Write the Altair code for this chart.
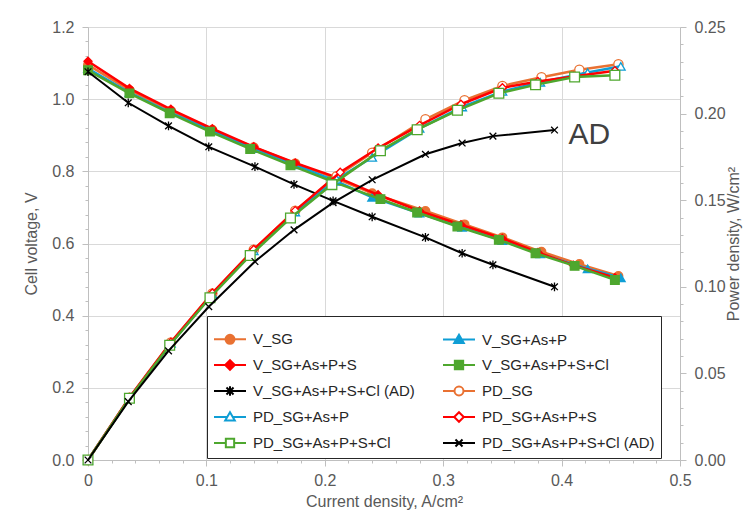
import altair as alt
import pandas as pd

# ---------------- data ----------------
series_v = ["V_SG", "V_SG+As+P", "V_SG+As+P+S", "V_SG+As+P+S+Cl", "V_SG+As+P+S+Cl (AD)"]
series_pd = ["PD_SG", "PD_SG+As+P", "PD_SG+As+P+S", "PD_SG+As+P+S+Cl", "PD_SG+As+P+S+Cl (AD)"]
colors = ["#E97132", "#0F9ED5", "#FF0000", "#4EA72E", "#000000"]

I_SG = [0, 0.035, 0.07, 0.105, 0.14, 0.175, 0.21, 0.24, 0.285, 0.318, 0.35, 0.383, 0.415, 0.448]
V_SG = [1.095, 1.025, 0.968, 0.915, 0.867, 0.822, 0.78, 0.739, 0.69, 0.653, 0.617, 0.577, 0.543, 0.51]
PD_SG = [0, 0.0359, 0.0678, 0.0961, 0.1214, 0.1439, 0.1638, 0.1774, 0.1967, 0.2077, 0.2160, 0.2210, 0.2253, 0.2285]

I_ASP = [0, 0.035, 0.07, 0.105, 0.14, 0.175, 0.21, 0.24, 0.28, 0.316, 0.35, 0.382, 0.422, 0.45]
V_ASP = [1.085, 1.018, 0.962, 0.912, 0.863, 0.818, 0.772, 0.728, 0.684, 0.645, 0.608, 0.571, 0.53, 0.505]
PD_ASP = [0, 0.0356, 0.0673, 0.0958, 0.1208, 0.1432, 0.1621, 0.1747, 0.1915, 0.2038, 0.2128, 0.2181, 0.2237, 0.2273]

I_ASPS = [0, 0.035, 0.07, 0.105, 0.14, 0.175, 0.213, 0.245, 0.28, 0.315, 0.35, 0.38, 0.41, 0.445]
V_ASPS = [1.105, 1.03, 0.972, 0.918, 0.868, 0.823, 0.78, 0.735, 0.69, 0.652, 0.614, 0.575, 0.54, 0.505]
PD_ASPS = [0, 0.0361, 0.068, 0.0964, 0.1215, 0.144, 0.1661, 0.1801, 0.1932, 0.2054, 0.2149, 0.2185, 0.2214, 0.2247]

I_ASPSCl = [0, 0.035, 0.069, 0.103, 0.137, 0.171, 0.206, 0.247, 0.278, 0.312, 0.347, 0.378, 0.411, 0.445]
V_ASPSCl = [1.08, 1.016, 0.961, 0.91, 0.862, 0.817, 0.772, 0.723, 0.686, 0.647, 0.61, 0.573, 0.538, 0.499]
PD_ASPSCl = [0, 0.0356, 0.0663, 0.0937, 0.1181, 0.1397, 0.159, 0.1786, 0.1907, 0.2019, 0.2117, 0.2166, 0.2211, 0.2221]

I_AD = [0, 0.034, 0.068, 0.102, 0.141, 0.174, 0.207, 0.24, 0.285, 0.316, 0.342, 0.394]
V_AD = [1.076, 0.99, 0.926, 0.868, 0.813, 0.764, 0.718, 0.674, 0.617, 0.573, 0.541, 0.48]
PD_AD = [0, 0.0337, 0.063, 0.0885, 0.1146, 0.1329, 0.1486, 0.1618, 0.1765, 0.1830, 0.1870, 0.1905]

currents = [I_SG, I_ASP, I_ASPS, I_ASPSCl, I_AD]
voltages = [V_SG, V_ASP, V_ASPS, V_ASPSCl, V_AD]
powers = [PD_SG, PD_ASP, PD_ASPS, PD_ASPSCl, PD_AD]

x_ticks = [round(i * 0.02, 2) for i in range(26)]
yl_ticks = [round(i * 0.04, 2) for i in range(31)]
yr_ticks = [round(i * 0.01, 2) for i in range(26)]

# ---------------- tables ----------------
rows = []
for k in range(5):
    for i, v, p in zip(currents[k], voltages[k], powers[k]):
        rows.append({"group": k, "I": i, "V": v, "PD": p})
df = pd.DataFrame(rows)

all_names = series_v + series_pd
# legend is filled column by column: order so that rows read like the reference
leg_order = [0, 2, 4, 6, 8, 1, 3, 5, 7, 9]
legend_names = [all_names[j] for j in leg_order]
legend_df = pd.DataFrame({"name": legend_names})
ad_df = pd.DataFrame({"I": [I_AD[-1]], "PD": [PD_AD[-1]], "t": ["AD"]})

# ---------------- styling ----------------
FONT = "Liberation Sans"
AXC = "#BFBFBF"
GRIDC = "#D9D9D9"
LABC = "#595959"


def cond(test, a, b):
    return {"condition": {"test": test, "value": a}, "value": b}


tx = "abs(datum.value*10 - round(datum.value*10)) < 0.001"
tyl = "abs(datum.value*5 - round(datum.value*5)) < 0.001"
tyr = "abs(datum.value*20 - round(datum.value*20)) < 0.001"

common_axis = dict(domainColor=AXC, tickColor=AXC, gridColor=GRIDC, labelFont=FONT,
                   labelFontSize=16, labelColor=LABC, titleFont=FONT, titleFontSize=16,
                   titleColor=LABC, titleFontWeight="normal", labelOverlap=False,
                   labelFlush=False, domainWidth=1, tickWidth=1)

x_axis = alt.Axis(values=x_ticks, title="Current density, A/cm²",
                  labelExpr=f"{tx} ? (datum.value == 0 ? '0' : format(datum.value, '.1f')) : ''",
                  tickSize=cond(tx, 6, 3), grid=True, gridOpacity=cond(tx, 1, 0),
                  labelPadding=6, titlePadding=5, **common_axis)
yl_axis = alt.Axis(values=yl_ticks, title="Cell voltage, V", orient="left",
                   labelExpr=f"{tyl} ? format(datum.value, '.1f') : ''",
                   tickSize=cond(tyl, 6, 3), grid=True, gridOpacity=cond(tyl, 1, 0),
                   labelPadding=8, titlePadding=12, **common_axis)
yr_axis = alt.Axis(values=yr_ticks, title="Power density, W/cm²", orient="right",
                   labelExpr=f"{tyr} ? format(datum.value, '.2f') : ''",
                   tickSize=cond(tyr, 6, 3), grid=False, titleAngle=270,
                   labelPadding=8, titlePadding=16, **common_axis)

X = alt.X("I:Q", scale=alt.Scale(domain=[0, 0.5], nice=False), axis=x_axis)
YL = alt.Y("V:Q", scale=alt.Scale(domain=[0, 1.2], nice=False), axis=yl_axis)
YR = alt.Y("PD:Q", scale=alt.Scale(domain=[0, 0.25], nice=False), axis=yr_axis)

v_shapes = ["circle", "triangle-up", "diamond", "square",
            "M-1,-1L1,1M-1,1L1,-1M0,-1.3V1.3"]
pd_shapes = ["circle", "triangle-up", "diamond", "square", "M-1,-1L1,1M-1,1L1,-1"]
v_sizes = [75, 75, 65, 75, 45]
pd_sizes = [85, 75, 65, 95, 45]

left_layers = []
right_layers = []
for k in range(5):
    base = alt.Chart(df).transform_filter(f"datum.group == {k}")
    lw = 2.0 if k == 4 else 2.5
    left_layers.append(base.mark_line(color=colors[k], strokeWidth=lw).encode(x=X, y=YL))
    left_layers.append(base.mark_point(shape=v_shapes[k], size=v_sizes[k], fill=colors[k],
                                       stroke=colors[k], strokeWidth=1.3, opacity=1,
                                       filled=True).encode(x=X, y=YL))
for k in range(5):
    base = alt.Chart(df).transform_filter(f"datum.group == {k}")
    lw = 2.0 if k == 4 else 2.5
    right_layers.append(base.mark_line(color=colors[k], strokeWidth=lw).encode(x=X, y=YR))
    right_layers.append(base.mark_point(shape=pd_shapes[k], size=pd_sizes[k],
                                        fill="white" if k < 4 else colors[k],
                                        stroke=colors[k], strokeWidth=1.3, opacity=1,
                                        filled=True).encode(x=X, y=YR))
right_layers.append(alt.Chart(ad_df).mark_text(align="left", baseline="middle", dx=14, dy=5,
                                               fontSize=30, font=FONT, color="#404040")
                    .encode(x=X, y=YR, text="t:N"))

# legend symbols: line + marker paths
m = 0.28
circ = f"M-{m},0A{m},{m},0,1,1,{m},0A{m},{m},0,1,1,-{m},0Z"
tri = "M0,-0.3L0.3,0.22L-0.3,0.22Z"
dia = "M0,-0.3L0.3,0L0,0.3L-0.3,0Z"
sq = "M-0.26,-0.26H0.26V0.26H-0.26Z"
ast = "M-0.22,-0.22L0.22,0.22M-0.22,0.22L0.22,-0.22M0,-0.3V0.3"
xx = "M-0.22,-0.22L0.22,0.22M-0.22,0.22L0.22,-0.22"
full = "M-1,0H1"
all_shapes = [full + circ, full + tri, full + dia, full + sq, full + ast,
              f"M-1,0H-{m}M{m},0H1" + circ, "M-1,0H-0.17M0.17,0H1" + tri,
              "M-1,0H-0.3M0.3,0H1" + dia, "M-1,0H-0.26M0.26,0H1" + sq, full + xx]
all_stroke = colors + colors
all_fill = colors + ["white", "white", "white", "white", "#000000"]
leg_shapes = [all_shapes[j] for j in leg_order]
leg_stroke = [all_stroke[j] for j in leg_order]
leg_fill = [all_fill[j] for j in leg_order]

leg = alt.Legend(title=None, orient="none", legendX=119, legendY=289, columns=2,
                 symbolSize=1024, symbolStrokeWidth=2, labelFont=FONT, labelFontSize=15,
                 labelColor="#262626", labelOffset=6, columnPadding=24, rowPadding=0,
                 padding=6, strokeColor="#262626", fillColor="white", labelLimit=400,
                 symbolOpacity=1)

legend_layer = alt.Chart(legend_df).transform_filter("false").mark_point(opacity=1).encode(
    stroke=alt.Stroke("name:N", scale=alt.Scale(domain=legend_names, range=leg_stroke), legend=leg),
    fill=alt.Fill("name:N", scale=alt.Scale(domain=legend_names, range=leg_fill), legend=leg),
    shape=alt.Shape("name:N", scale=alt.Scale(domain=legend_names, range=leg_shapes), legend=leg),
)

left = alt.layer(*left_layers)
right = alt.layer(*right_layers)

chart = alt.layer(left, right, legend_layer).resolve_scale(y="independent").properties(
    width=592, height=433,
    padding={"left": 80, "top": 19, "right": 63, "bottom": 50},
    autosize=alt.AutoSizeParams(type="none"),
    background="white",
).configure_view(stroke=None)

chart.save("out.html", embed_options={"renderer": "svg", "actions": False})
